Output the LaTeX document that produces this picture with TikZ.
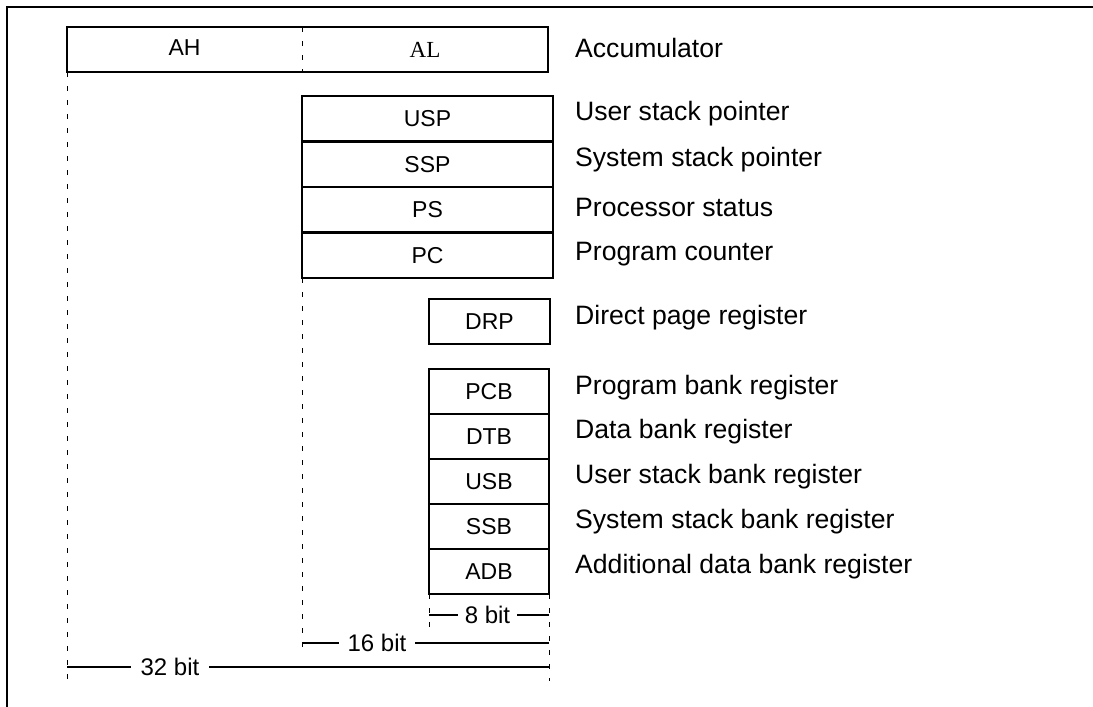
\documentclass[tikz,border=0pt]{standalone}
\usepackage{fontspec}
\setmainfont{Liberation Sans}
\newfontfamily\timesfam{Liberation Serif}
\newcommand\regfont{\fontsize{23}{26}\selectfont}
\newcommand\lblfont{\fontsize{26.6}{30}\selectfont}
\newcommand\dimfont{\fontsize{24}{28}\selectfont}
\tikzset{
  reg/.style={draw, line width=2.8pt, inner sep=0pt, outer sep=0pt, font=\regfont},
  txt/.style={inner sep=0pt, font=\regfont},
  lbl/.style={anchor=west, inner sep=0pt, font=\lblfont},
  guide/.style={line width=1pt, dash pattern=on 5pt off 9pt},
  dimline/.style={line width=1.2pt},
  dimtext/.style={fill=white, inner ysep=2pt, font=\dimfont},
  frameline/.style={line width=2.2pt}
}
\begin{document}
\begin{tikzpicture}[x=1pt, y=-1pt]
\useasboundingbox (0,0) rectangle (1093,707);
% frame
\coordinate (fb) at (7,708);
\coordinate (fc) at (7,7);
\coordinate (fr) at (1094,7);
\draw[frameline] (fb) -- (fc) -- (fr);

% accumulator
\node[reg, minimum width=481pt, minimum height=45pt] (acc) at (307.5,49.5) {};
\node[txt] (ah) at (184.5,48) {AH};
\node[txt, font=\timesfam\regfont] (al) at (425,49.5) {AL};
\coordinate (accdt) at (302,27);
\coordinate (accdb) at (302,72);
\draw[guide] (accdt) -- (accdb);
\node[lbl] (lacc) at (575,48) {Accumulator};

% stack / status registers
\node[reg, minimum width=251pt, minimum height=45.5pt] (usp) at (427.5,118.75) {USP};
\node[reg, minimum width=251pt, minimum height=45.5pt] (ssp) at (427.5,164.25) {SSP};
\node[reg, minimum width=251pt, minimum height=45.5pt] (ps)  at (427.5,209.75) {PS};
\node[reg, minimum width=251pt, minimum height=45.5pt] (pc)  at (427.5,255.25) {PC};
\node[lbl] (lusp) at (575,114) {User stack pointer};
\node[lbl] (lssp) at (575,160) {System stack pointer};
\node[lbl] (lps)  at (575,207) {Processor status};
\node[lbl] (lpc)  at (575,254) {Program counter};

% direct page
\node[reg, minimum width=121pt, minimum height=45pt] (drp) at (489.5,321.5) {DRP};
\node[lbl] (ldrp) at (575,318) {Direct page register};

% bank registers
\node[reg, minimum width=120pt, minimum height=45pt] (pcb) at (489,391.5) {PCB};
\node[reg, minimum width=120pt, minimum height=45pt] (dtb) at (489,436.5) {DTB};
\node[reg, minimum width=120pt, minimum height=45pt] (usb) at (489,481.5) {USB};
\node[reg, minimum width=120pt, minimum height=45pt] (ssb) at (489,526.5) {SSB};
\node[reg, minimum width=120pt, minimum height=45pt] (adb) at (489,571.5) {ADB};
\node[lbl] (lpcb) at (575,388) {Program bank register};
\node[lbl] (ldtb) at (575,432) {Data bank register};
\node[lbl] (lusb) at (575,477) {User stack bank register};
\node[lbl] (lssb) at (575,522) {System stack bank register};
\node[lbl] (ladb) at (575,567) {Additional data bank register};

% guide lines
\coordinate (g32) at (67,681);
\coordinate (g16t) at (302,278);
\coordinate (g16) at (302,653);
\coordinate (g8) at (429,631);
\coordinate (gr) at (549,681);
\draw[guide] (acc.south west) -- (g32);
\draw[guide] (g16t) -- (g16);
\draw[guide] (adb.south west) -- (g8);
\draw[guide] (adb.south east) -- (gr);

% dimension lines
\coordinate (d8l) at (429,615);
\coordinate (d8r) at (549,615);
\coordinate (d16l) at (302,643);
\coordinate (d16r) at (549,643);
\coordinate (d32l) at (67,667);
\coordinate (d32r) at (549,667);
\draw[dimline] (d8l) -- (d8r);
\draw[dimline] (d16l) -- (d16r);
\draw[dimline] (d32l) -- (d32r);
\node[dimtext, inner xsep=7pt] (t8) at (487.5,615) {8 bit};
\node[dimtext, inner xsep=9pt] (t16) at (377,643) {16 bit};
\node[dimtext, inner xsep=10pt] (t32) at (170,667) {32 bit};
\end{tikzpicture}
\end{document}
